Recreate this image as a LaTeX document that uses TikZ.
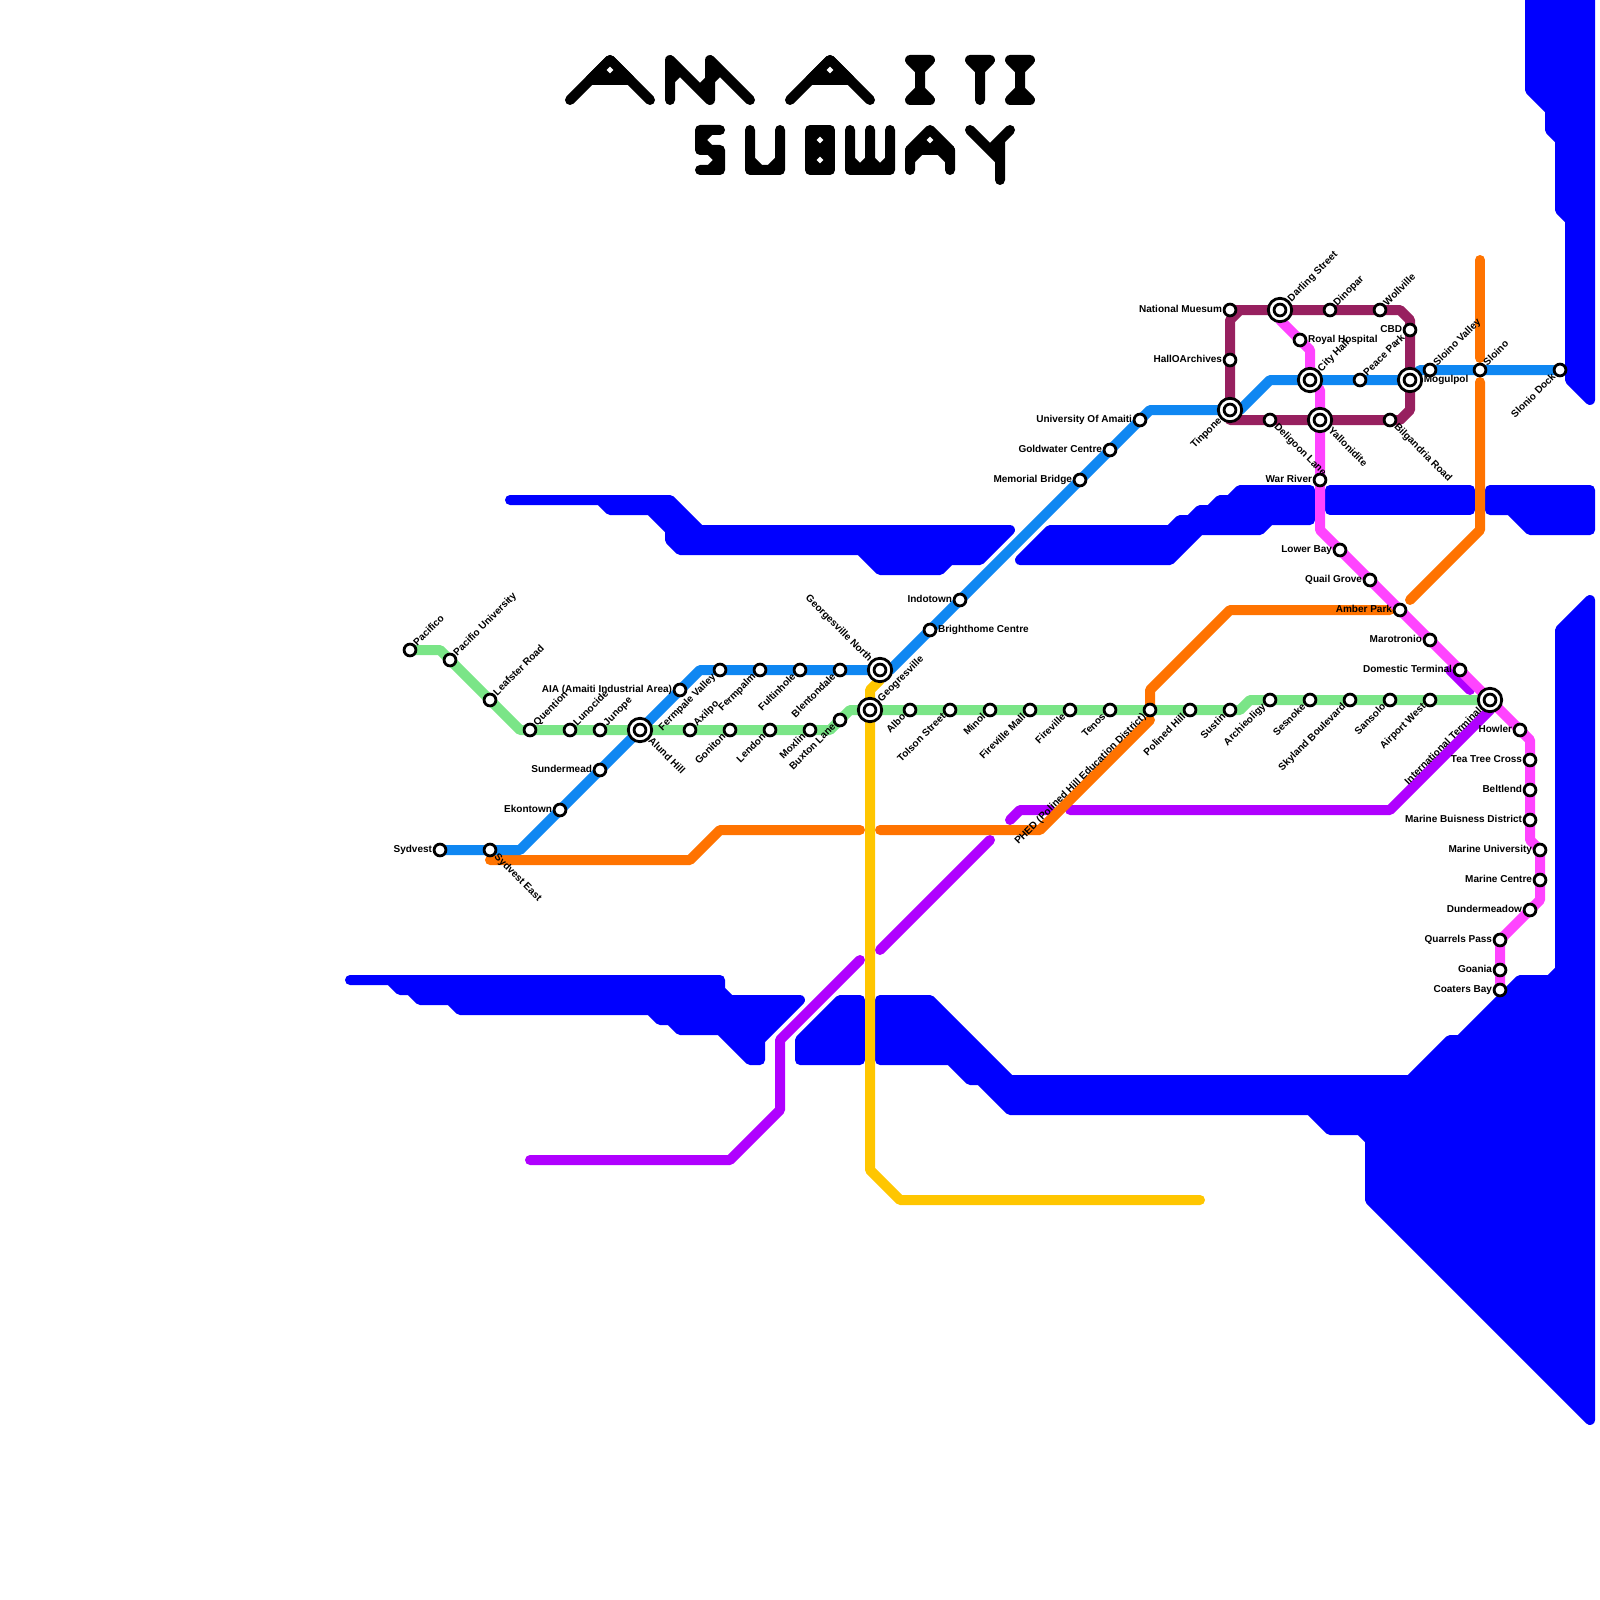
\documentclass[tikz,border=0pt]{standalone}
\usepackage{fontspec}
\setmainfont{Liberation Sans}
\usetikzlibrary{positioning}
\pgfdeclarelayer{water}
\pgfdeclarelayer{lines}
\pgfsetlayers{water,lines,main}
\definecolor{waterblue}{HTML}{0000FF}
\definecolor{linegreen}{HTML}{7AE587}
\definecolor{lineblue}{HTML}{0F87F2}
\definecolor{lineorange}{HTML}{FF7300}
\definecolor{linepurple}{HTML}{B000FF}
\definecolor{linepink}{HTML}{FF44FF}
\definecolor{linemaroon}{HTML}{97205F}
\definecolor{lineyellow}{HTML}{FFC600}

\begin{document}
\begin{tikzpicture}[
    x=1mm, y=-1mm,
    metro/.style={line width=1mm, line cap=round, line join=round},
    title stroke/.style={metro, draw=black},
    title hole/.style={fill=white, draw=none},
    water area/.style={line width=1mm, line join=round, fill=waterblue, draw=waterblue},
    stn/.style={circle, draw=black, fill=white, line width=0.28mm, minimum size=1.18mm, inner sep=0pt},
    hub/.style={circle, draw=black, fill=white, line width=0.28mm, minimum size=2.34mm, inner sep=0pt,
        label distance=0.1mm, label={[stn, anchor=center]center:{}}},
    stn text/.style={font=\fontsize{2.85}{3}\selectfont\bfseries, inner sep=0pt, text=black, text height=0.72mm, text depth=0.21mm},
    lab e/.style={label={[stn text, anchor=west]0:#1}},
    lab w/.style={label={[stn text, anchor=east]180:#1}},
    lab ne/.style={label={[stn text, rotate=45, anchor=west]45:#1}},
    lab sw/.style={label={[stn text, rotate=45, anchor=east]225:#1}},
    lab se/.style={label={[stn text, rotate=-45, anchor=west]-45:#1}},
    lab nw/.style={label={[stn text, rotate=-45, anchor=east]135:#1}}
]
    \useasboundingbox (0,0) rectangle (160,160);

    % Titel
    \draw[title stroke] (57,10) -- (61,6) -- (65,10);
    \draw[title stroke, fill=black] (59,8) -- (63,8) -- (61,6) -- cycle;
    \draw[title stroke] (67,10) -- (67,6) -- (71,10) -- (71,6) -- (75,10) (67,8) -- (68,7) (70,9) -- (72,7);
    \draw[title stroke] (79,10) -- (83,6) -- (87,10);
    \draw[title stroke, fill=black] (81,8) -- (85,8) -- (83,6) -- cycle;
    \draw[title stroke] (91,6) -- (93,6) -- (92,7) -- cycle (92,6) -- (92,10) (91,10) -- (93,10) -- (92,9) -- cycle;
    \draw[title stroke] (97,6) -- (99,6) -- (98,7) -- cycle (98,6) -- (98,10);
    \draw[title stroke] (101,6) -- (103,6) -- (102,7) -- cycle (102,6) -- (102,10) (101,10) -- (103,10) -- (102,9) -- cycle;
    \draw[title stroke] (72,13) -- (70,13) -- (70,15) -- (72,15) -- (72,17) -- (70,17) (71,13) -- (70,14) -- (71,15) -- (72,16) -- (71,17);
    \draw[title stroke] (75,13) -- (75,17) -- (78,17) -- (78,13) (75,16) -- (76,17) (77,17) -- (78,16);
    \draw[title stroke, fill=black] (81,13) rectangle (83,17);
    \draw[title stroke] (85,13) -- (85,17) -- (89,17) -- (89,13) (87,13) -- (87,17) (85,16) -- (86,17) -- (87,16) -- (88,17) -- (89,16);
    \draw[title stroke] (91,17) -- (91,15) (95,15) -- (95,17) (91,16) -- (92,15) (94,15) -- (95,16);
    \draw[title stroke, fill=black] (91,15) -- (95,15) -- (93,13) -- cycle;
    \draw[title stroke] (97,13) -- (100,16) (101,13) -- (99,15) (100,14) -- (100,18);
    \foreach \hx/\hy in {61/7, 83/7, 82/14, 82/16, 93/14}
        \fill[title hole] (\hx-0.33,\hy) -- (\hx,\hy-0.33) -- (\hx+0.33,\hy) -- (\hx,\hy+0.33) -- cycle;

    % Water
    \begin{pgfonlayer}{water}
        \draw[water area] (51,50) -- (60,50) -- (61,51) -- (65,51) -- (67,53) -- (67,54) -- (68,55) -- (86,55) -- (88,57) -- (94,57) -- (95,56) -- (98,56) -- (101,53) -- (70,53) -- (67,50) -- cycle;
        \draw[water area] (102,56) -- (105,53) -- (117,53) -- (118,52) -- (119,52) -- (120,51) -- (121,51) -- (122,50) -- (123,50) -- (124,49) -- (131,49) -- (131,52) -- (127,52) -- (126,53) -- (120,53) -- (117,56) -- cycle;
        \draw[water area] (133,49) rectangle (147,51);
        \draw[water area] (149,49) -- (149,51) -- (151,51) -- (153,53) -- (159,53) -- (159,49) -- cycle;
        \draw[water area] (35,98) -- (39,98) -- (40,99) -- (41,99) -- (42,100) -- (45,100) -- (46,101) -- (65,101) -- (66,102) -- (67,102) -- (68,103) -- (72,103) -- (75,106) -- (76,106) -- (76,104) -- (80,100) -- (73,100) -- (72,99) -- (72,98) -- cycle;
        \draw[water area] (80,106) -- (86,106) -- (86,100) -- (84,100) -- (80,104) -- cycle;
        \draw[water area] (88,100) -- (93,100) -- (101,108) -- (141,108) -- (145,104) -- (146,104) -- (152,98) -- (155,98) -- (156,97) -- (156,63) -- (159,60) -- (159,142) -- (137,120) -- (137,114) -- (136,113) -- (133,113) -- (131,111) -- (101,111) -- (98,108) -- (97,108) -- (95,106) -- (88,106) -- cycle;
        \draw[water area] (153,-1) -- (153,9) -- (155,11) -- (155,13) -- (156,14) -- (156,21) -- (157,22) -- (157,38) -- (159,40) -- (159,-1) -- cycle;
    \end{pgfonlayer}

    % Groene lijn
    \node[stn, lab ne=Pacifico] (pacifico) at (41,65) {};
    \node[stn, lab ne=Pacifio University] (pacificouni) at (45,66) {};
    \node[stn, lab ne=Leafster Road] (leafster) at (49,70) {};
    \node[stn, lab ne=Quention] (quention) at (53,73) {};
    \node[stn, lab ne=Lunocide] (lunocide) at (57,73) {};
    \node[stn, lab ne=Junope] (junope) at (60,73) {};
    \node[hub, lab se=Alund Hill] (alund) at (64,73) {};
    \node[stn, lab ne=Axilpo] (axilpo) at (69,73) {};
    \node[stn, lab sw=Goniton] (goniton) at (73,73) {};
    \node[stn, lab sw=Lendon] (lendon) at (77,73) {};
    \node[stn, lab sw=Moxlin] (moxlin) at (81,73) {};
    \node[stn, lab sw=Buxton Lane] (buxton) at (84,72) {};
    \node[hub, lab ne=Geogresville] (geogresville) at (87,71) {};
    \node[stn, lab sw=Albo] (albo) at (91,71) {};
    \node[stn, lab sw=Tolson Street] (tolson) at (95,71) {};
    \node[stn, lab sw=Minol] (minol) at (99,71) {};
    \node[stn, lab sw=Fireville Mall] (firevillemall) at (103,71) {};
    \node[stn, lab sw=Fireville] (fireville) at (107,71) {};
    \node[stn, lab sw=Tenos] (tenos) at (111,71) {};
    \node[stn, lab sw={PHED (Polined Hill Education District)}] (phed) at (115,71) {};
    \node[stn, lab sw=Polined Hill] (polined) at (119,71) {};
    \node[stn, lab sw=Sustin] (sustin) at (123,71) {};
    \node[stn, lab sw=Archieoligy] (archieoligy) at (127,70) {};
    \node[stn, lab sw=Sesnoke] (sesnoke) at (131,70) {};
    \node[stn, lab sw=Skyland Boulevard] (skyland) at (135,70) {};
    \node[stn, lab sw=Sansolo] (sansolo) at (139,70) {};
    \node[stn, lab sw=Airport West] (airportwest) at (143,70) {};
    \node[hub, lab sw=International Terminal] (international) at (149,70) {};

    % Blauwe lijn
    \node[stn, lab w=Sydvest] (sydvest) at (44,85) {};
    \node[stn, lab se=Sydvest East] (sydvesteast) at (49,85) {};
    \node[stn, lab w=Ekontown] (ekontown) at (56,81) {};
    \node[stn, lab w=Sundermead] (sundermead) at (60,77) {};
    \node[stn, lab w={AIA (Amaiti Industrial Area)}] (aia) at (68,69) {};
    \node[stn, lab sw=Fermpale Valley] (fermpalevalley) at (72,67) {};
    \node[stn, lab sw=Fermpalm] (fermpalm) at (76,67) {};
    \node[stn, lab sw=Fultinhole] (fultinhole) at (80,67) {};
    \node[stn, lab sw=Blentondale] (blentondale) at (84,67) {};
    \node[hub, lab nw=Georgesville North] (georgesvillenorth) at (88,67) {};
    \node[stn, lab e=Brighthome Centre] (brighthome) at (93,63) {};
    \node[stn, lab w=Indotown] (indotown) at (96,60) {};
    \node[stn, lab w=Memorial Bridge] (memorial) at (108,48) {};
    \node[stn, lab w=Goldwater Centre] (goldwater) at (111,45) {};
    \node[stn, lab w=University Of Amaiti] (university) at (114,42) {};
    \node[hub, lab sw=Tinpone] (tinpone) at (123,41) {};
    \node[hub, lab ne=City Hall] (cityhall) at (131,38) {};
    \node[stn, lab ne=Peace Park] (peacepark) at (136,38) {};
    \node[hub, lab e=Mogulpol] (mogulpol) at (141,38) {};
    \node[stn, lab ne=Sloino Valley] (sloinovalley) at (143,37) {};
    \node[stn, lab ne=Sloino] (sloino) at (148,37) {};
    \node[stn, lab sw=Slonio Dock] (sloniodock) at (156,37) {};

    % Ringlijn
    \node[stn, lab w=National Muesum] (national) at (123,31) {};
    \node[stn, lab w=HallOArchives] (hallo) at (123,36) {};
    \node[hub, lab ne=Darling Street] (darling) at (128,31) {};
    \node[stn, lab ne=Dinopar] (dinopar) at (133,31) {};
    \node[stn, lab ne=Wollville] (wollville) at (138,31) {};
    \node[stn, lab w=CBD] (cbd) at (141,33) {};
    \node[stn, lab se=Deligoon Lane] (deligoon) at (127,42) {};
    \node[hub, lab se=Yallonidite] (yallonidite) at (132,42) {};
    \node[stn, lab se=Bilgandria Road] (bilgandria) at (139,42) {};

    % Roze lijn
    \node[stn, lab e=Royal Hospital] (royal) at (130,34) {};
    \node[stn, lab w=War River] (warriver) at (132,48) {};
    \node[stn, lab w=Lower Bay] (lowerbay) at (134,55) {};
    \node[stn, lab w=Quail Grove] (quailgrove) at (137,58) {};
    \node[stn, lab w=Amber Park] (amberpark) at (140,61) {};
    \node[stn, lab w=Marotronio] (marotronio) at (143,64) {};
    \node[stn, lab w=Domestic Terminal] (domestic) at (146,67) {};
    \node[stn, lab w=Howler] (howler) at (152,73) {};
    \node[stn, lab w=Tea Tree Cross] (teatree) at (153,76) {};
    \node[stn, lab w=Beltlend] (beltlend) at (153,79) {};
    \node[stn, lab w=Marine Buisness District] (marinebusiness) at (153,82) {};
    \node[stn, lab w=Marine University] (marineuni) at (154,85) {};
    \node[stn, lab w=Marine Centre] (marinecentre) at (154,88) {};
    \node[stn, lab w=Dundermeadow] (dundermeadow) at (153,91) {};
    \node[stn, lab w=Quarrels Pass] (quarrels) at (150,94) {};
    \node[stn, lab w=Goania] (goania) at (150,97) {};
    \node[stn, lab w=Coaters Bay] (coaters) at (150,99) {};

    % Losse einden
    \coordinate (orangeA) at (49,86);
    \coordinate (orangeB) at (86,83);
    \coordinate (orangeC) at (88,83);
    \coordinate (orangeD) at (115,72);
    \coordinate (orangeE) at (139,61);
    \coordinate (orangeF) at (148,26);
    \coordinate (orangeG) at (148,35.8);
    \coordinate (orangeH) at (148,38.2);
    \coordinate (orangeI) at (141,60);
    \coordinate (purpleA) at (53,116);
    \coordinate (purpleB) at (86,96);
    \coordinate (purpleC) at (88,95);
    \coordinate (purpleD) at (99,84);
    \coordinate (purpleE) at (101,82);
    \coordinate (purpleF) at (105,81);
    \coordinate (purpleG) at (107,81);
    \coordinate (purpleH) at (145,67);
    \coordinate (purpleI) at (147,69);
    \coordinate (yellowA) at (120,120);

    \begin{pgfonlayer}{lines}
        % Paars
        \draw[metro, linepurple] (purpleA) -- (73,116) -- (78,111) -- (78,104) -- (purpleB);
        \draw[metro, linepurple] (purpleC) -- (purpleD);
        \draw[metro, linepurple] (purpleE) -- (102,81) -- (purpleF);
        \draw[metro, linepurple] (purpleG) -- (139,81) -- (149,71) -- (international.center);
        \draw[metro, linepurple] (purpleH) -- (purpleI);
        % Oranje
        \draw[metro, lineorange] (orangeA) -- (69,86) -- (72,83) -- (orangeB);
        \draw[metro, lineorange] (orangeC) -- (104,83) -- (orangeD);
        \draw[metro, lineorange] (phed.center) -- (115,69) -- (123,61) -- (orangeE);
        \draw[metro, lineorange] (orangeF) -- (orangeG);
        \draw[metro, lineorange] (orangeH) -- (148,53) -- (orangeI);
        % Groen
        \draw[metro, linegreen] (pacifico.center) -- (44,65) -- (pacificouni.center) -- (leafster.center) -- (52,73) -- (quention.center) -- (moxlin.center) -- (83,73) -- (buxton.center) -- (85,71) -- (geogresville.center) -- (sustin.center) -- (124,71) -- (125,70) -- (archieoligy.center) -- (international.center);
        % Blauw
        \draw[metro, lineblue] (sydvest.center) -- (sydvesteast.center) -- (52,85) -- (ekontown.center) -- (sundermead.center) -- (alund.center) -- (aia.center) -- (70,67) -- (fermpalevalley.center) -- (georgesvillenorth.center) -- (89,67) -- (brighthome.center) -- (indotown.center) -- (memorial.center) -- (goldwater.center) -- (university.center) -- (115,41) -- (tinpone.center) -- (124,41) -- (127,38) -- (cityhall.center) -- (peacepark.center) -- (mogulpol.center) -- (142,37) -- (sloinovalley.center) -- (sloino.center) -- (sloniodock.center);
        % Roze
        \draw[metro, linepink] (darling.center) -- (128,32) -- (royal.center) -- (131,35) -- (cityhall.center) -- (132,39) -- (yallonidite.center) -- (warriver.center) -- (132,53) -- (lowerbay.center) -- (quailgrove.center) -- (amberpark.center) -- (marotronio.center) -- (domestic.center) -- (international.center) -- (howler.center) -- (153,74) -- (teatree.center) -- (beltlend.center) -- (marinebusiness.center) -- (153,84) -- (marineuni.center) -- (marinecentre.center) -- (154,90) -- (dundermeadow.center) -- (quarrels.center) -- (goania.center) -- (coaters.center);
        % Ring
        \draw[metro, linemaroon] (national.center) -- (darling.center) -- (dinopar.center) -- (wollville.center) -- (140,31) -- (141,32) -- (cbd.center) -- (mogulpol.center) -- (141,41) -- (140,42) -- (bilgandria.center) -- (yallonidite.center) -- (deligoon.center) -- (123,42) -- (tinpone.center) -- (hallo.center) -- (123,32) -- (124,31);
        % Geel
        \draw[metro, lineyellow] (georgesvillenorth.center) -- (88,68) -- (87,69) -- (geogresville.center) -- (87,117) -- (90,120) -- (yellowA);
    \end{pgfonlayer}
\end{tikzpicture}
\end{document}
